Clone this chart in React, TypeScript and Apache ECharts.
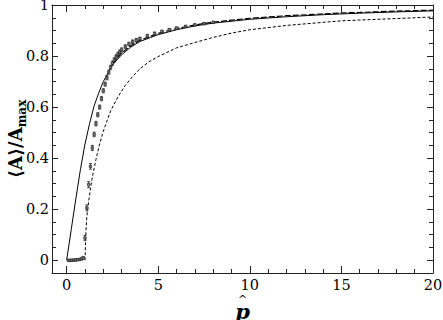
import React, { useEffect, useRef } from "react";
import * as echarts from "echarts";

// Axis ticks and labels
const xMajor = [0, 5, 10, 15, 20];
const xMinor = [1, 2, 3, 4, 6, 7, 8, 9, 11, 12, 13, 14, 16, 17, 18, 19];
const yMajor = [0, 0.2, 0.4, 0.6, 0.8, 1];
const yMinor = [0.05, 0.1, 0.15, 0.25, 0.3, 0.35, 0.45, 0.5, 0.55, 0.65, 0.7, 0.75, 0.85, 0.9, 0.95];

// Simulation data (markers with error bars)
const simX = [0.1, 0.2, 0.3, 0.4, 0.5, 0.6, 0.7, 0.8, 0.9, 1.0, 1.1, 1.2, 1.3, 1.4, 1.5, 1.6, 1.7, 1.8, 1.9, 2.0, 2.1, 2.2, 2.3, 2.4, 2.5, 2.6, 2.7, 2.8, 2.9, 3.0, 3.2, 3.4, 3.6, 3.8, 4.0, 4.4, 4.8, 5.2, 5.6, 6.0, 6.5, 7.0, 7.5, 8.0];
const simY = [0.0, 0.0, 0.0, 0.001, 0.001, 0.002, 0.003, 0.005, 0.009, 0.087, 0.205, 0.296, 0.368, 0.44, 0.493, 0.535, 0.57, 0.6, 0.633, 0.664, 0.69, 0.715, 0.737, 0.756, 0.772, 0.785, 0.797, 0.807, 0.816, 0.824, 0.837, 0.847, 0.856, 0.862, 0.868, 0.879, 0.888, 0.896, 0.903, 0.909, 0.916, 0.922, 0.927, 0.932];
const simErr = [0.003, 0.003, 0.003, 0.003, 0.003, 0.003, 0.003, 0.004, 0.005, 0.01, 0.012, 0.012, 0.011, 0.01, 0.009, 0.009, 0.008, 0.008, 0.008, 0.008, 0.008, 0.008, 0.008, 0.008, 0.008, 0.008, 0.008, 0.008, 0.008, 0.008, 0.007, 0.007, 0.007, 0.007, 0.006, 0.006, 0.006, 0.005, 0.005, 0.005, 0.004, 0.004, 0.004, 0.004];

// Solid theory curve
const solidX = [0, 0.25, 0.5, 0.75, 1.0, 1.25, 1.5, 1.75, 2.0, 2.5, 3.0, 3.5, 4.0, 5.0, 6.0, 7.0, 8.0, 10.0, 12.0, 14.0, 16.0, 18.0, 20.0];
const solidY = [0, 0.12, 0.24, 0.355, 0.455, 0.535, 0.605, 0.655, 0.7, 0.765, 0.805, 0.835, 0.857, 0.884, 0.903, 0.918, 0.929, 0.944, 0.954, 0.962, 0.968, 0.973, 0.977];

// Upper dashed curve
const upperX = [2.5, 3.0, 3.5, 4.0, 5.0, 6.0, 7.0, 8.0, 10.0, 12.0, 14.0, 15.0, 16.0, 18.0, 20.0];
const upperY = [0.77, 0.812, 0.84, 0.862, 0.889, 0.908, 0.922, 0.933, 0.948, 0.958, 0.965, 0.969, 0.971, 0.976, 0.98];

// Lower dashed curve
const lowerX = [1.0, 1.05, 1.1, 1.2, 1.3, 1.4, 1.6, 1.8, 2.0, 2.4, 2.8, 3.2, 3.6, 4.0, 4.5, 5.0, 6.0, 7.0, 8.0, 9.0, 10.0, 12.0, 14.0, 15.0, 16.0, 18.0, 20.0];
const lowerY = [0.0, 0.11, 0.17, 0.23, 0.28, 0.325, 0.395, 0.455, 0.505, 0.585, 0.64, 0.685, 0.72, 0.75, 0.778, 0.798, 0.832, 0.853, 0.873, 0.89, 0.903, 0.92, 0.932, 0.938, 0.941, 0.947, 0.953];

const FONT = "DejaVu Serif";
const AX = "#222";

function xAxisDef(position: "bottom" | "top", ticks: number[], len: number, labels: boolean, line: boolean, extra: any = {}) {
  return {
    type: "value",
    position,
    min: -0.8,
    max: 20,
    splitLine: { show: false },
    axisLine: { show: line, onZero: false, lineStyle: { color: AX, width: 1 } },
    axisTick: { show: true, inside: true, length: len, customValues: ticks, lineStyle: { color: AX, width: 1 } },
    axisLabel: labels
      ? { show: true, customValues: xMajor, color: "#000", fontFamily: FONT, fontSize: 14.5, margin: 4, formatter: (v: number) => String(v) }
      : { show: false },
    nameMoveOverlap: false,
    ...extra,
  };
}

function yAxisDef(position: "left" | "right", ticks: number[], len: number, labels: boolean, line: boolean, extra: any = {}) {
  return {
    type: "value",
    position,
    min: -0.05,
    max: 1,
    splitLine: { show: false },
    axisLine: { show: line, onZero: false, lineStyle: { color: AX, width: 1 } },
    axisTick: { show: true, inside: true, length: len, customValues: ticks, lineStyle: { color: AX, width: 1 } },
    axisLabel: labels
      ? { show: true, customValues: yMajor, color: "#000", fontFamily: FONT, fontSize: 14.5, margin: 3, formatter: (v: number) => String(v) }
      : { show: false },
    nameMoveOverlap: false,
    ...extra,
  };
}

export default function App() {
  const ref = useRef<HTMLDivElement>(null);
  useEffect(() => {
    document.body.style.margin = "0";
    if (!ref.current) return;
    const chart = echarts.init(ref.current, undefined, { renderer: "svg" });
    const simData = simX.map((x, i) => [x, simY[i], simErr[i]]);
    chart.setOption({
      animation: false,
      backgroundColor: "#fff",
      textStyle: { fontFamily: FONT },
      grid: { left: 52, right: 10, top: 5, bottom: 47, containLabel: false, outerBoundsMode: "none" },
      xAxis: [
        xAxisDef("bottom", xMajor, 7, true, true, {
          name: "{h|^}\n{p|p}",
          nameLocation: "middle",
          nameGap: 22,
          nameTextStyle: {
            verticalAlign: "top",
            rich: {
              h: { fontFamily: FONT, fontSize: 11, lineHeight: 9, align: "center", color: "#000" },
              p: { fontFamily: FONT, fontSize: 21, fontWeight: "bold", fontStyle: "italic", lineHeight: 14, align: "center", color: "#000" },
            },
          },
        }),
        xAxisDef("bottom", xMinor, 4, false, false),
        xAxisDef("top", xMajor, 7, false, true),
        xAxisDef("top", xMinor, 4, false, false),
      ],
      yAxis: [
        yAxisDef("left", yMajor, 6, true, true, {
          name: "{a|⟨A⟩/A}{b|max}",
          nameLocation: "middle",
          nameGap: 24,
          nameTextStyle: {
            rich: {
              a: { fontFamily: FONT, fontSize: 18, fontWeight: "bold", color: "#000", lineHeight: 22, verticalAlign: "top" },
              b: { fontFamily: FONT, fontSize: 12, fontWeight: "bold", color: "#000", lineHeight: 22, verticalAlign: "bottom", padding: [9, 0, 0, 0] },
            },
          },
        }),
        yAxisDef("left", yMinor, 4, false, false),
        yAxisDef("right", yMajor, 6, false, true),
        yAxisDef("right", yMinor, 4, false, false),
      ],
      series: [
        {
          type: "line",
          name: "solid",
          data: solidX.map((x, i) => [x, solidY[i]]),
          showSymbol: false,
          lineStyle: { color: "#000", width: 1, type: "solid" },
          z: 2,
        },
        {
          type: "line",
          name: "upper",
          data: upperX.map((x, i) => [x, upperY[i]]),
          showSymbol: false,
          lineStyle: { color: "#000", width: 1.2, type: [6, 2] },
          z: 3,
        },
        {
          type: "line",
          name: "lower",
          data: lowerX.map((x, i) => [x, lowerY[i]]),
          showSymbol: false,
          lineStyle: { color: "#000", width: 1, type: [3, 2] },
          z: 3,
        },
        {
          type: "custom",
          name: "sim",
          data: simData,
          z: 4,
          renderItem: (params: any, api: any) => {
            const x = api.value(0);
            const y = api.value(1);
            const e = api.value(2);
            const c = api.coord([x, y]);
            const t = api.coord([x, y + e]);
            const b = api.coord([x, y - e]);
            const s = { stroke: "#222", lineWidth: 0.8, fill: "none" };
            return {
              type: "group",
              children: [
                { type: "line", shape: { x1: c[0], y1: t[1], x2: c[0], y2: b[1] }, style: s },
                { type: "line", shape: { x1: c[0] - 1.5, y1: t[1], x2: c[0] + 1.5, y2: t[1] }, style: s },
                { type: "line", shape: { x1: c[0] - 1.5, y1: b[1], x2: c[0] + 1.5, y2: b[1] }, style: s },
                { type: "rect", shape: { x: c[0] - 1.2, y: c[1] - 1.2, width: 2.4, height: 2.4 }, style: { stroke: "#222", lineWidth: 0.7, fill: "#888" } },
              ],
            };
          },
        },
      ],
    });
    return () => chart.dispose();
  }, []);
  return <div ref={ref} style={{ width: 443, height: 320 }} />;
}
